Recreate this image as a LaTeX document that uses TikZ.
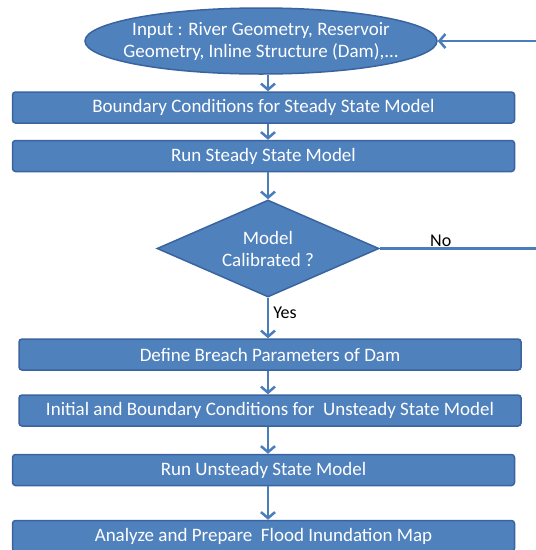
\documentclass[tikz,border=0pt]{standalone}
\usepackage{fontspec}
\setmainfont{Carlito}
\usetikzlibrary{shapes.geometric,arrows.meta}
\definecolor{boxblue}{HTML}{4F81BD}
\definecolor{edgeblue}{HTML}{3A64A0}
\definecolor{lineblue}{HTML}{4A7EBB}
\begin{document}
\begin{tikzpicture}[x=1pt,y=-1pt,>={Straight Barb[length=6pt,width=14pt]},
  stepbox/.style={draw=edgeblue,line width=1.5pt,fill=boxblue,rounded corners=3pt,
    minimum width=502pt,minimum height=31pt,inner sep=0pt,text=white,
    font=\fontsize{19}{22}\selectfont},
  steptext/.style={text=white,align=center,font=\fontsize{19}{22}\selectfont},
  flow/.style={->,draw=lineblue,line width=2.5pt},
  flowline/.style={draw=lineblue,line width=2.5pt}]
\useasboundingbox[fill=white] (0,0) rectangle (536,550);
% start and decision shapes
\node[ellipse,draw=edgeblue,line width=1.5pt,fill=boxblue,minimum width=352pt,minimum height=66pt,inner sep=0pt] (input) at (261,41) {};
\node[steptext] (inputtext) at (input) {Input : River Geometry, Reservoir\\Geometry, Inline Structure (Dam),...};
\node[stepbox] (bound) at (263.5,107.5) {Boundary Conditions for Steady State Model};
\node[stepbox] (steady) at (263.5,156) {Run Steady State Model};
\node[diamond,draw=edgeblue,line width=1.5pt,fill=boxblue,minimum width=222pt,minimum height=97pt,inner sep=0pt] (calib) at (268,248.5) {};
\node[steptext] (calibtext) at (calib) {Model\\Calibrated ?};
% steps after calibration
\node[stepbox] (breach) at (270,354.5) {Define Breach Parameters of Dam};
\node[stepbox] (initial) at (270,410.5) {Initial and Boundary Conditions for~ Unsteady State Model};
\node[stepbox] (unsteady) at (263.5,470) {Run Unsteady State Model};
\node[stepbox] (flood) at (263.5,536) {Analyze and Prepare~ Flood Inundation Map};
\coordinate (edgeno) at (536,248.5);
\coordinate (edgein) at (536,41);
% arrows
\draw[flow] (input.south -| calib) -- (bound.north -| calib);
\draw[flow] (bound.south -| calib) -- (steady.north -| calib);
\draw[flow] (steady.south -| calib) -- (calib.north);
\draw[flow] (calib.south) -- node[pos=0.38,right,inner sep=4pt,font=\fontsize{18}{22}\selectfont] {Yes} (breach.north -| calib);
\draw[flow] (breach.south -| calib) -- (initial.north -| calib);
\draw[flow] (initial.south -| calib) -- (unsteady.north -| calib);
\draw[flow] (unsteady.south -| calib) -- (flood.north -| calib);
\draw[flowline] (calib.east) -- node[pos=0.39,above,inner sep=1pt,font=\fontsize{18}{22}\selectfont] {No} (edgeno);
\draw[flow] (edgein) -- (input.east);
\end{tikzpicture}
\end{document}
